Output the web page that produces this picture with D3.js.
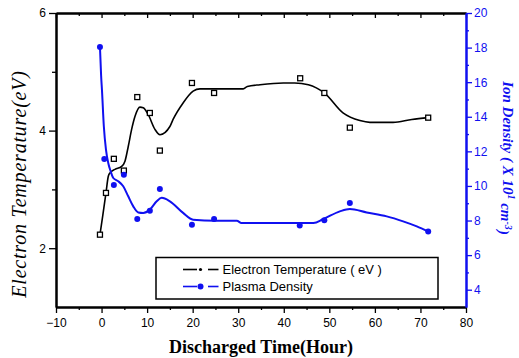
<!DOCTYPE html>
<html><head><meta charset="utf-8">
<script src="https://cdn.jsdelivr.net/npm/d3@7"></script>
<style>
body{margin:0;background:#fff;}
svg{display:block;}
</style></head>
<body>
<svg id="chart" width="519" height="358"></svg>
<script>
// ---- data ----
const timeTicks = [-10,0,10,20,30,40,50,60,70,80];
const tempTicks = [2,4,6];
const densTicks = [4,6,8,10,12,14,16,18,20];

// measured points
const ptTime = [-0.35,0.97,2.7,4.9,7.84,10.6,12.8,19.84,24.7,43.6,48.9,54.5,71.7];
const ptTemp = [2.23,2.94,3.52,3.32,4.57,4.30,3.66,4.81,4.64,4.89,4.64,4.05,4.22];
const ptDensTime = [-0.35,0.6,2.7,4.9,7.84,10.6,12.8,19.84,24.7,43.5,48.9,54.5,71.7];
const ptDens = [18.03,11.56,10.06,10.64,8.09,8.57,9.83,7.75,8.09,7.71,8.01,9.02,7.37];

// smoothed curves
const fitTempTime = [-0.35,0.24,0.97,1.47,1.84,2.94,4.41,5.14,5.86,6.6,7.33,8.43,9.15,10.25,11.72,12.82,15.0,15.7,17.9,20.1,21.6,25,28.2,31.1,32,34.8,39.9,42.4,45.4,48.9,53.0,56.7,58.9,64.0,68.1,71.7];
const fitTemp = [2.23,2.54,2.94,3.22,3.28,3.34,3.39,3.48,3.73,4.02,4.24,4.40,4.39,4.27,4.02,3.93,4.07,4.19,4.47,4.67,4.71,4.71,4.71,4.71,4.75,4.78,4.81,4.81,4.78,4.64,4.30,4.17,4.14,4.14,4.19,4.22];
const fitDensTime = [-0.35,-0.1,0.1,0.5,0.97,1.47,2.0,2.57,3.67,4.76,5.86,6.96,8.06,9.15,10.6,12.1,13.2,15.0,17.9,20.1,25,29.7,30.7,46.5,48.7,52.3,54.5,58.2,62.6,66.2,69.2,71.7];
const fitDens = [18.03,16.4,15.5,13.45,12.1,11.33,10.84,10.46,10.27,9.98,9.40,8.82,8.47,8.44,8.63,9.11,9.31,9.11,8.44,8.05,7.99,7.99,7.86,7.86,8.09,8.53,8.67,8.47,8.24,7.95,7.66,7.37];

const legendLabels = ["Electron Temperature ( eV )","Plasma Density"];

// ---- drawing ----
const svg = d3.select("#chart");
const L=56, R=466, T=13, B=307;
const BLUE = "#1010f0";
const x = d3.scaleLinear([-10,80],[L,R]);
const yL = d3.scaleLinear([1,6],[B,T]);
const yR = d3.scaleLinear([3,20],[B,T]);
const sans = "'Liberation Sans', Arial, sans-serif";
const serif = "'Liberation Serif', 'Times New Roman', serif";

function styleAxis(g, color, fs){
  g.select(".domain").attr("stroke",color).attr("stroke-width",2);
  g.selectAll(".tick line").attr("stroke",color).attr("stroke-width",1.3);
  g.selectAll(".tick text").attr("fill",color).style("font-family",sans).style("font-size",fs+"px");
}
const minorX = d3.range(-5,80,10);

// bottom
const gb = svg.append("g").attr("transform",`translate(0,${B})`)
  .call(d3.axisBottom(x).tickValues(timeTicks).tickSize(6).tickSizeOuter(0).tickPadding(5).tickFormat(d3.format("d")));
styleAxis(gb,"#000",12);
const gbm = svg.append("g").attr("transform",`translate(0,${B})`)
  .call(d3.axisBottom(x).tickValues(minorX).tickSize(3).tickSizeOuter(0).tickFormat(""));
styleAxis(gbm,"#000",12);
// top
const gt = svg.append("g").attr("transform",`translate(0,${T})`)
  .call(d3.axisTop(x).tickValues(timeTicks).tickSize(-5).tickSizeOuter(0).tickFormat(""));
styleAxis(gt,"#000",12);
const gtm = svg.append("g").attr("transform",`translate(0,${T})`)
  .call(d3.axisTop(x).tickValues(minorX).tickSize(-3).tickSizeOuter(0).tickFormat(""));
styleAxis(gtm,"#000",12);
// left
const gl = svg.append("g").attr("transform",`translate(${L},0)`)
  .call(d3.axisLeft(yL).tickValues(tempTicks).tickSize(7).tickSizeOuter(0).tickPadding(3).tickFormat(d3.format("d")));
styleAxis(gl,"#000",12);
const glm = svg.append("g").attr("transform",`translate(${L},0)`)
  .call(d3.axisLeft(yL).tickValues([3,5]).tickSize(4).tickSizeOuter(0).tickFormat(""));
styleAxis(glm,"#000",12);
// right
const gr = svg.append("g").attr("transform",`translate(${R},0)`)
  .call(d3.axisRight(yR).tickValues(densTicks).tickSize(6).tickSizeOuter(0).tickPadding(2).tickFormat(d3.format("d")));
styleAxis(gr,BLUE,12);
const grm = svg.append("g").attr("transform",`translate(${R},0)`)
  .call(d3.axisRight(yR).tickValues(d3.range(5,20,2)).tickSize(3).tickSizeOuter(0).tickFormat(""));
styleAxis(grm,BLUE,12);

// curves
const tempFit = fitTempTime.map((t,i)=>[t,fitTemp[i]]);
const densFit = fitDensTime.map((t,i)=>[t,fitDens[i]]);
svg.append("path").datum(tempFit)
  .attr("d",d3.line().x(d=>x(d[0])).y(d=>yL(d[1])).curve(d3.curveMonotoneX))
  .attr("fill","none").attr("stroke","#000").attr("stroke-width",1.6);
svg.append("path").datum(densFit)
  .attr("d",d3.line().x(d=>x(d[0])).y(d=>yR(d[1])).curve(d3.curveMonotoneX))
  .attr("fill","none").attr("stroke",BLUE).attr("stroke-width",2);

// points
const S=5;
svg.append("g").selectAll("rect").data(ptTime.map((t,i)=>[t,ptTemp[i]])).join("rect")
  .attr("x",d=>x(d[0])-S/2).attr("y",d=>yL(d[1])-S/2).attr("width",S).attr("height",S)
  .attr("fill","#fff").attr("stroke","#000").attr("stroke-width",1.3);
svg.append("g").selectAll("circle").data(ptDensTime.map((t,i)=>[t,ptDens[i]])).join("circle")
  .attr("cx",d=>x(d[0])).attr("cy",d=>yR(d[1])).attr("r",3).attr("fill",BLUE);

// legend
const lg = svg.append("g");
lg.append("rect").attr("x",156).attr("y",257.5).attr("width",282).attr("height",41.5)
  .attr("fill","#fff").attr("stroke","#000").attr("stroke-width",1.5);
const rows=[{c:"#000",r:1.6,lab:legendLabels[0],y:269.5},{c:BLUE,r:3,lab:legendLabels[1],y:286.5}];
rows.forEach(o=>{
  lg.append("line").attr("x1",183).attr("x2",197).attr("y1",o.y).attr("y2",o.y).attr("stroke",o.c).attr("stroke-width",1.6);
  lg.append("line").attr("x1",208).attr("x2",218.5).attr("y1",o.y).attr("y2",o.y).attr("stroke",o.c).attr("stroke-width",1.6);
  lg.append("circle").attr("cx",200.5).attr("cy",o.y).attr("r",o.r).attr("fill",o.c);
  lg.append("text").attr("x",222.5).attr("y",o.y).attr("dy","0.36em").text(o.lab)
    .style("font-family",sans).style("font-size","13px").attr("fill","#000");
});

// titles
svg.append("text").attr("x",(L+R)/2).attr("y",353).attr("text-anchor","middle")
  .style("font-family",serif).style("font-weight","bold").style("font-size","18px").text("Discharged Time(Hour)");
svg.append("text").attr("transform","translate(26,184) rotate(-90)").attr("text-anchor","middle")
  .style("font-family",serif).style("font-style","italic").style("font-size","20px").style("letter-spacing","0.8px")
  .text("Electron Temperature(eV)");
const rt = svg.append("text").attr("transform","translate(503,158) rotate(90)").attr("text-anchor","middle")
  .style("font-family",serif).style("font-style","italic").style("font-weight","bold").style("font-size","15px").attr("fill",BLUE);
rt.append("tspan").text("Ion Density ( X 10");
rt.append("tspan").attr("dy","-0.45em").style("font-size","10px").text("1");
rt.append("tspan").attr("dy","0.45em").text(" cm");
rt.append("tspan").attr("dy","-0.45em").style("font-size","10px").text("-3");
rt.append("tspan").attr("dy","0.45em").text(")");
</script>
</body></html>
